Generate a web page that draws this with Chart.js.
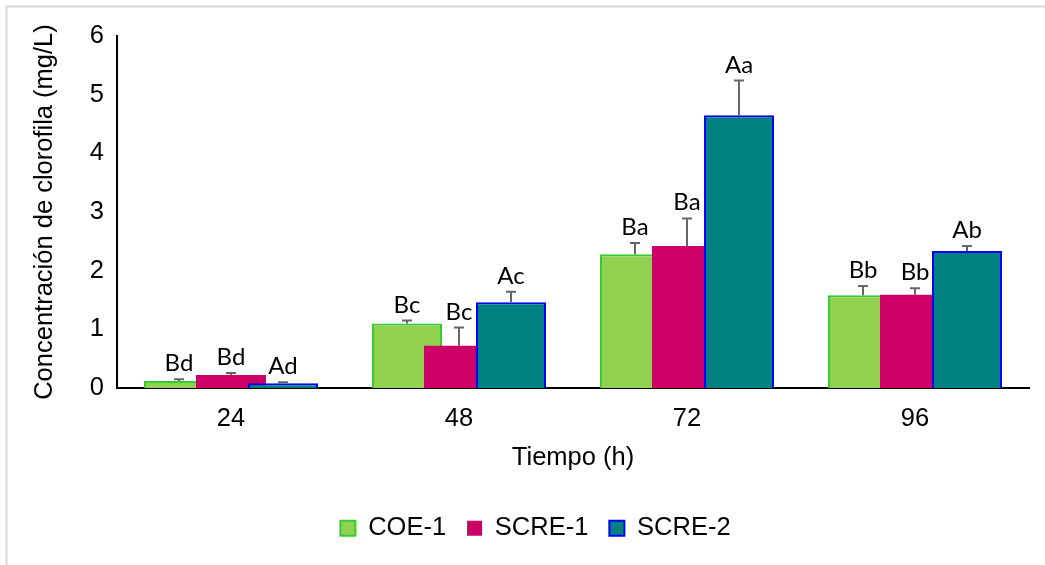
<!DOCTYPE html>
<html><head><meta charset="utf-8">
<script src="https://cdn.jsdelivr.net/npm/chart.js@4"></script>
<style>html,body{margin:0;padding:0;background:#fff}</style>
</head><body>
<canvas id="c" width="1045" height="565"></canvas>
<script>
const categories = ['24', '48', '72', '96'];
const seriesNames = ['COE-1', 'SCRE-1', 'SCRE-2'];
const coe1 = [0.12, 1.10, 2.28, 1.58];
const coe1Err = [0.03, 0.05, 0.19, 0.16];
const scre1 = [0.22, 0.72, 2.42, 1.59];
const scre1Err = [0.035, 0.31, 0.47, 0.11];
const scre2 = [0.08, 1.46, 4.65, 2.335];
const scre2Err = [0.02, 0.18, 0.59, 0.085];
const coe1Letters = ['Bd', 'Bc', 'Ba', 'Bb'];
const scre1Letters = ['Bd', 'Bc', 'Ba', 'Bb'];
const scre2Letters = ['Ad', 'Ac', 'Aa', 'Ab'];
const yTicks = [0, 1, 2, 3, 4, 5, 6];

const ARIAL = '"Liberation Sans", Arial, sans-serif';
const FS = 25.5;
const errs = [coe1Err, scre1Err, scre2Err];
const letters = [coe1Letters, scre1Letters, scre2Letters];

const overlay = {
  id: 'overlay',
  beforeDraw(chart) {
    const ctx = chart.ctx;
    ctx.save();
    ctx.fillStyle = '#fff';
    ctx.fillRect(0, 0, chart.width, chart.height);
    ctx.strokeStyle = '#d9d9d9';
    ctx.lineWidth = 2;
    ctx.beginPath();
    ctx.moveTo(6.5, chart.height);
    ctx.lineTo(6.5, 6.5);
    ctx.lineTo(chart.width, 6.5);
    ctx.stroke();
    ctx.restore();
  },
  afterLayout(chart) {
    chart.legend.left += 21;
    chart.legend.right += 21;
  },
  beforeDatasetDraw() { return false; },
  afterDatasetsDraw(chart) {
    const ctx = chart.ctx;
    const y = chart.scales.y;
    chart.data.datasets.forEach((ds, i) => chart.getDatasetMeta(i).controller.draw());
    ctx.save();
    chart.data.datasets.forEach((ds, i) => {
      const meta = chart.getDatasetMeta(i);
      meta.data.forEach((bar, j) => {
        const top = y.getPixelForValue(ds.data[j] + errs[i][j]);
        ctx.strokeStyle = '#666';
        ctx.lineWidth = 2;
        ctx.beginPath();
        ctx.moveTo(bar.x, bar.y);
        ctx.lineTo(bar.x, top);
        ctx.moveTo(bar.x - 5, top);
        ctx.lineTo(bar.x + 5, top);
        ctx.stroke();
        ctx.fillStyle = '#000';
        ctx.font = '24px Lato';
        ctx.textAlign = 'center';
        ctx.textBaseline = 'alphabetic';
        ctx.fillText(letters[i][j], bar.x, top - 8);
      });
    });
    ctx.restore();
  }
};

new Chart(document.getElementById('c'), {
  type: 'bar',
  data: {
    labels: categories,
    datasets: [
      { label: seriesNames[0], data: coe1, backgroundColor: '#92D050', borderColor: '#33CC33', borderWidth: 2 },
      { label: seriesNames[1], data: scre1, backgroundColor: '#CC0066', borderColor: '#CC0066', borderWidth: 0 },
      { label: seriesNames[2], data: scre2, backgroundColor: '#008080', borderColor: '#0000FF', borderWidth: 2 }
    ]
  },
  options: {
    responsive: false,
    animation: false,
    categoryPercentage: 156 / 228,
    barPercentage: 70 / 52,
    layout: { padding: { left: 0, right: 16, top: 36, bottom: 14 } },
    plugins: {
      tooltip: { enabled: false },
      legend: {
        position: 'bottom',
        labels: { boxWidth: 15, boxHeight: 15, padding: 21, color: '#000', font: { family: ARIAL, size: FS } }
      }
    },
    scales: {
      x: {
        grid: { display: false, drawTicks: false },
        border: { display: true, color: '#000', width: 2 },
        ticks: { color: '#000', padding: 16, font: { family: ARIAL, size: FS } },
        title: { display: true, text: 'Tiempo (h)', color: '#000', font: { family: ARIAL, size: FS }, padding: { top: 0, bottom: 21 } },
        afterFit(s) { s.height = s.chart.height - 14 - s.chart.legend.height - 388; }
      },
      y: {
        min: 0, max: 6,
        grid: { display: false, drawTicks: false },
        border: { display: true, color: '#000', width: 2 },
        ticks: { stepSize: 1, color: '#000', padding: 13, font: { family: ARIAL, size: FS } },
        afterBuildTicks(s) { s.ticks = yTicks.map(v => ({ value: v })); },
        title: { display: true, text: 'Concentración de clorofila (mg/L)', color: '#000', font: { family: ARIAL, size: FS }, padding: { top: 30, bottom: 0 } },
        afterFit(s) { s.width = 117; }
      }
    }
  },
  plugins: [overlay]
});
</script>
</body></html>
